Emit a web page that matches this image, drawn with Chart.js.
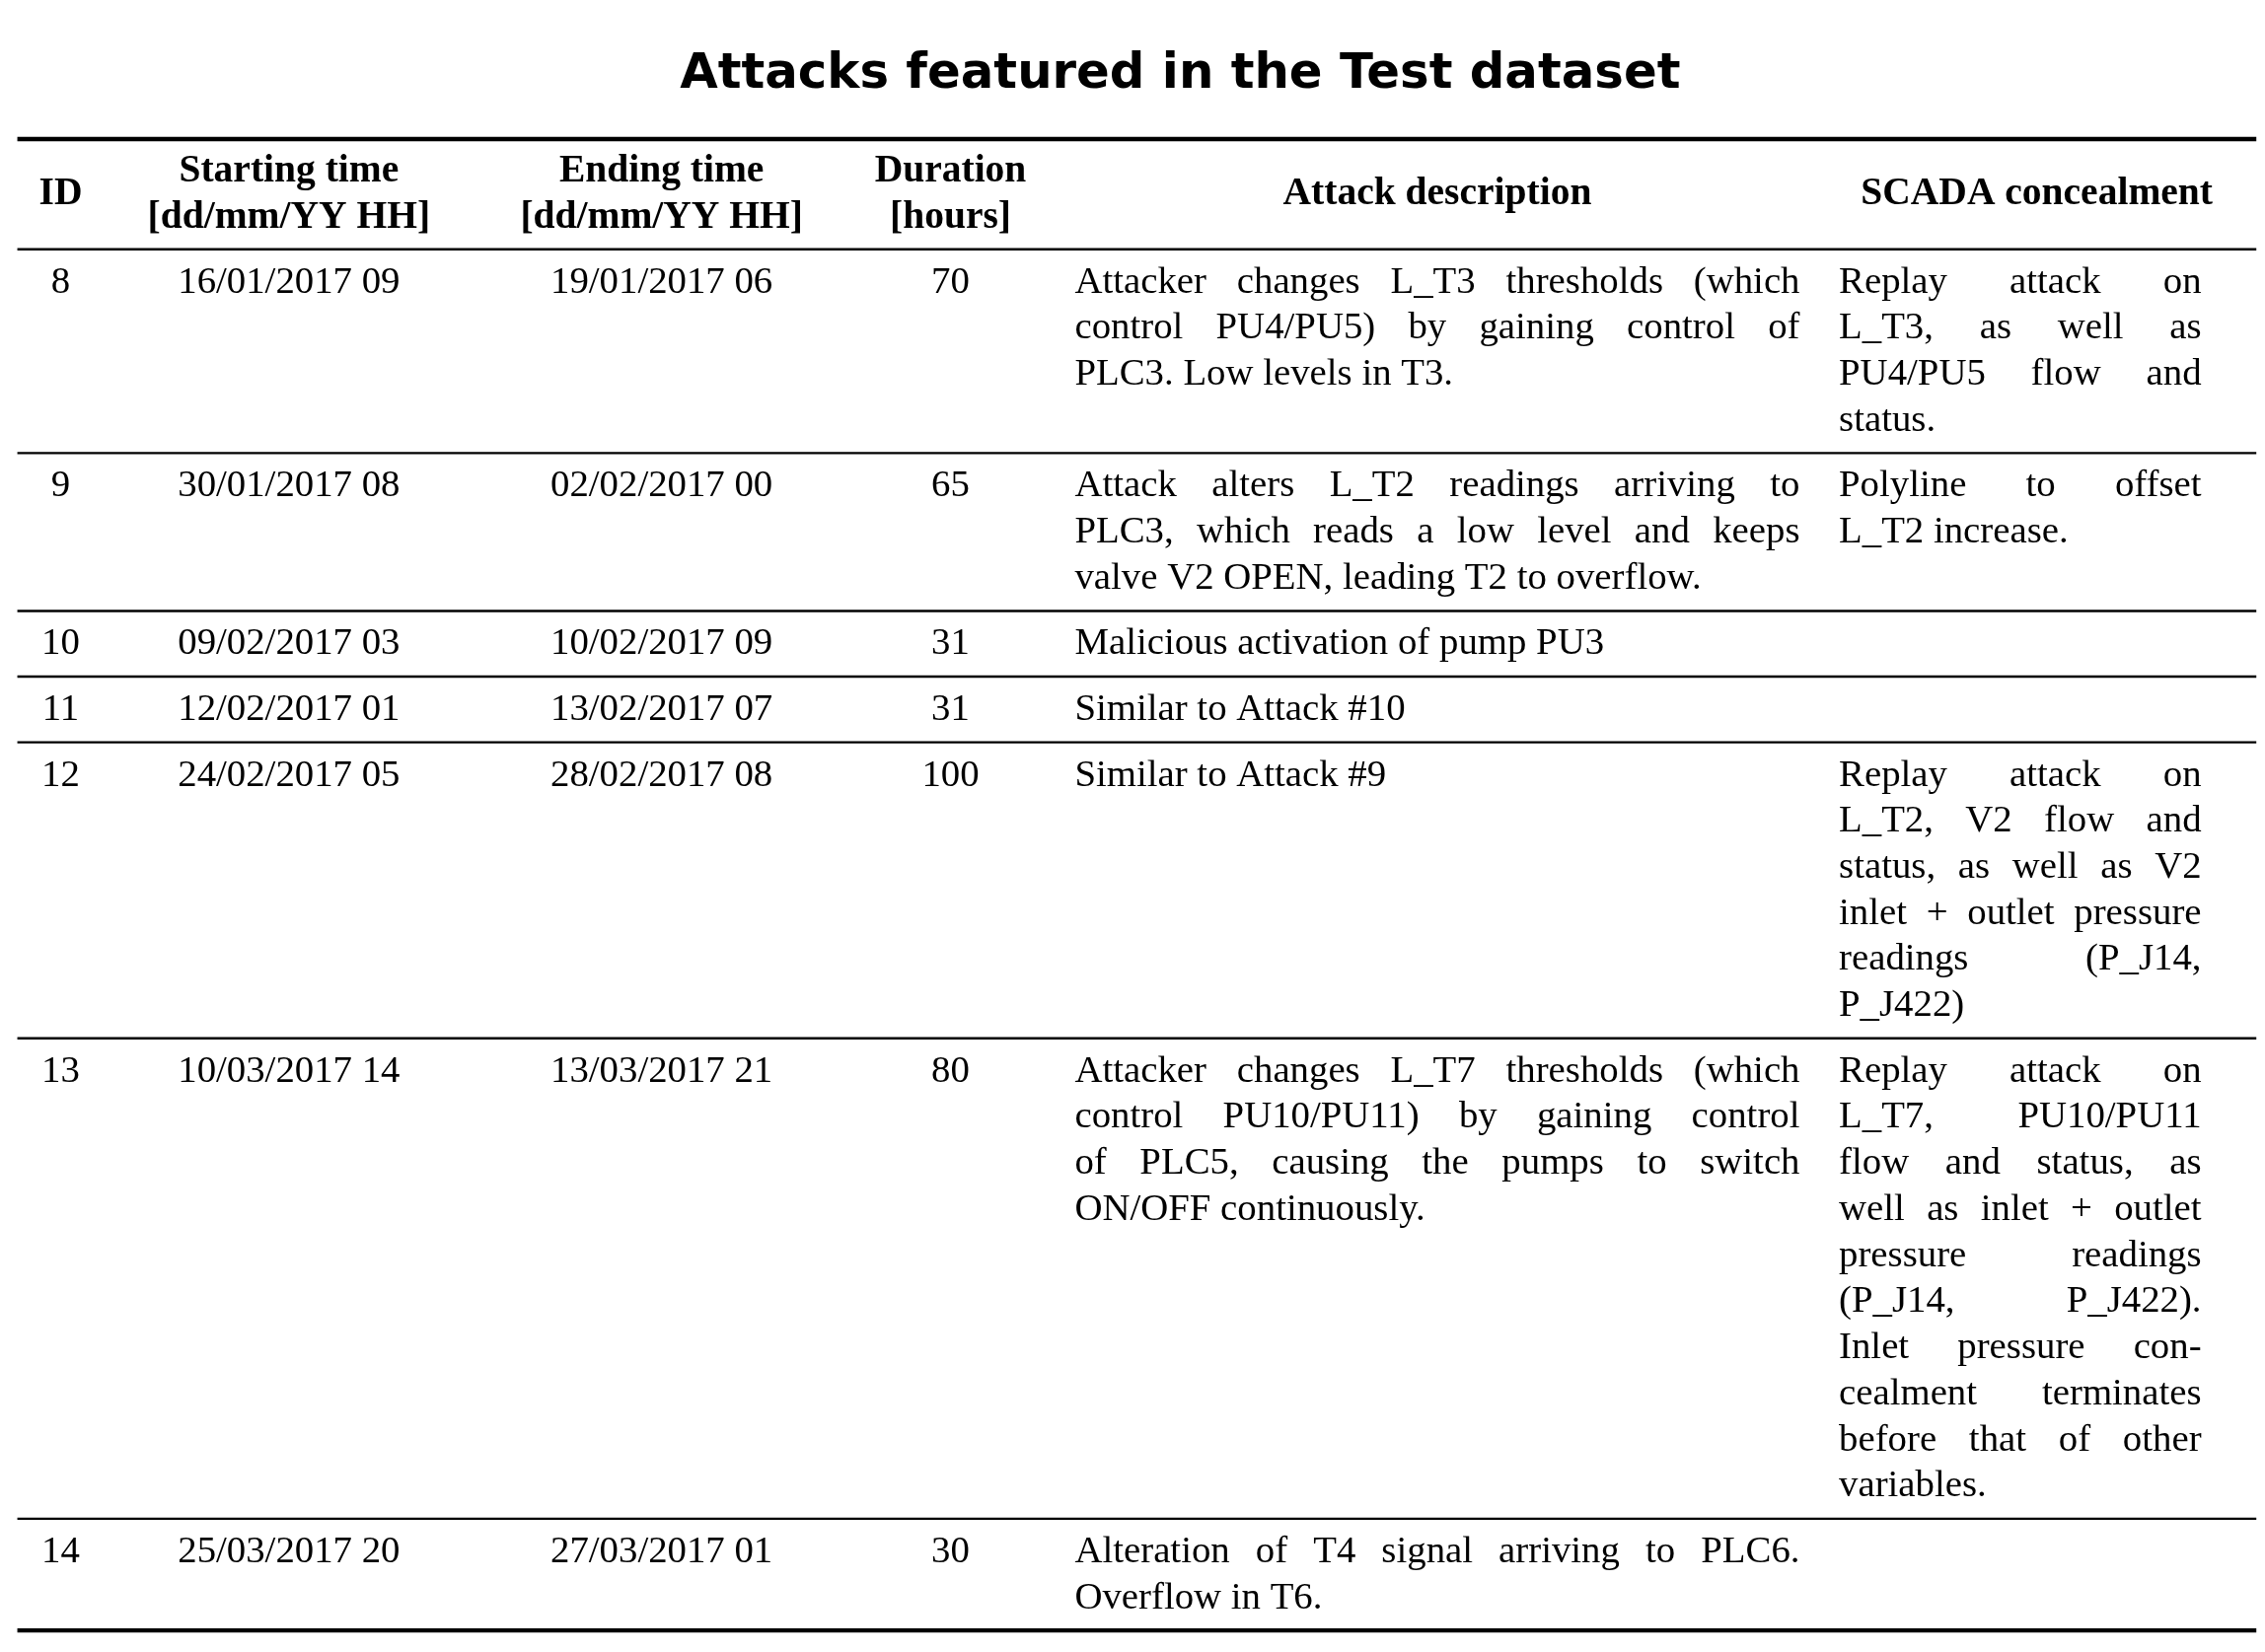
<!DOCTYPE html>
<html>
<head>
<meta charset="utf-8">
<script src="https://cdn.jsdelivr.net/npm/chart.js@4/dist/chart.umd.min.js"></script>
<style>
html, body { margin: 0; padding: 0; background: #fff; }
#wrap { width: 2296px; height: 1675px; }
</style>
</head>
<body>
<div id="wrap"><canvas id="tbl"></canvas></div>
<script>
var chartTitle = "Attacks featured in the Test dataset";
var headers = [
    ["ID"],
    ["Starting time", "[dd/mm/YY HH]"],
    ["Ending time", "[dd/mm/YY HH]"],
    ["Duration", "[hours]"],
    ["Attack description"],
    ["SCADA concealment"]
];
var ids = ["8", "9", "10", "11", "12", "13", "14"];
var starts = ["16/01/2017 09", "30/01/2017 08", "09/02/2017 03", "12/02/2017 01", "24/02/2017 05", "10/03/2017 14", "25/03/2017 20"];
var ends = ["19/01/2017 06", "02/02/2017 00", "10/02/2017 09", "13/02/2017 07", "28/02/2017 08", "13/03/2017 21", "27/03/2017 01"];
var durations = ["70", "65", "31", "31", "100", "80", "30"];
var descriptions = [
    ["Attacker changes L_T3 thresholds (which", "control PU4/PU5) by gaining control of", "PLC3. Low levels in T3."],
    ["Attack alters L_T2 readings arriving to", "PLC3, which reads a low level and keeps", "valve V2 OPEN, leading T2 to overflow."],
    ["Malicious activation of pump PU3"],
    ["Similar to Attack #10"],
    ["Similar to Attack #9"],
    ["Attacker changes L_T7 thresholds (which", "control PU10/PU11) by gaining control", "of PLC5, causing the pumps to switch", "ON/OFF continuously."],
    ["Alteration of T4 signal arriving to PLC6.", "Overflow in T6."]
];
var concealments = [
    ["Replay attack on", "L_T3, as well as", "PU4/PU5 flow and", "status."],
    ["Polyline to offset", "L_T2 increase."],
    [],
    [],
    ["Replay attack on", "L_T2, V2 flow and", "status, as well as V2", "inlet + outlet pressure", "readings (P_J14,", "P_J422)"],
    ["Replay attack on", "L_T7, PU10/PU11", "flow and status, as", "well as inlet + outlet", "pressure readings", "(P_J14, P_J422).", "Inlet pressure con-", "cealment terminates", "before that of other", "variables."],
    []
];

// layout in reference units (1568 x 1140)
var W = 1568, H = 1140;
var centers = [42, 200, 458, 658];
var descBox = [744, 1246], concBox = [1273, 1524];
var lineH = 31.8;

var tablePlugin = {
    id: 'tablePlugin',
    afterDraw: function (chart) {
        var ctx = chart.ctx, sx = chart.scales.x, sy = chart.scales.y;
        var s = chart.width / W;
        var X = function (v) { return sx.getPixelForValue(v); };
        var Y = function (v) { return sy.getPixelForValue(v); };
        var body = (26.5 * s) + "px 'Liberation Serif', serif";
        var bold = "bold " + (27 * s) + "px 'Liberation Serif', serif";

        function rule(y, w) {
            ctx.beginPath();
            ctx.lineWidth = w * s;
            ctx.strokeStyle = "#000";
            ctx.moveTo(X(12), Y(y));
            ctx.lineTo(X(1562), Y(y));
            ctx.stroke();
        }
        function justify(line, x0, x1, y, last) {
            var words = line.split(" ");
            if (last || words.length < 2) {
                ctx.textAlign = "left";
                ctx.fillText(line, X(x0), Y(y));
                return;
            }
            var total = 0;
            words.forEach(function (w) { total += ctx.measureText(w).width; });
            var gap = (X(x1) - X(x0) - total) / (words.length - 1);
            var px = X(x0);
            ctx.textAlign = "left";
            words.forEach(function (w) {
                ctx.fillText(w, px, Y(y));
                px += ctx.measureText(w).width + gap;
            });
        }

        ctx.save();
        ctx.fillStyle = "#000";
        ctx.textBaseline = "middle";

        ctx.font = "bold " + (34 * s) + "px 'DejaVu Sans', sans-serif";
        ctx.textAlign = "center";
        ctx.fillText(chartTitle, X(817), Y(52));

        rule(96, 3);
        ctx.font = bold;
        var hx = [42, 200, 458, 658, 995, 1410];
        headers.forEach(function (h, i) {
            ctx.textAlign = "center";
            if (h.length === 1) ctx.fillText(h[0], X(hx[i]), Y(134));
            else { ctx.fillText(h[0], X(hx[i]), Y(118)); ctx.fillText(h[1], X(hx[i]), Y(150)); }
        });
        rule(172, 1.6);

        ctx.font = body;
        var top = 172;
        for (var r = 0; r < ids.length; r++) {
            var n = Math.max(1, descriptions[r].length, concealments[r].length);
            var y0 = top + 23;
            ctx.textAlign = "center";
            [ids[r], starts[r], ends[r], durations[r]].forEach(function (t, i) {
                ctx.fillText(t, X(centers[i]), Y(y0));
            });
            descriptions[r].forEach(function (l, k) {
                justify(l, descBox[0], descBox[1], y0 + k * lineH, k === descriptions[r].length - 1);
            });
            concealments[r].forEach(function (l, k) {
                justify(l, concBox[0], concBox[1], y0 + k * lineH, k === concealments[r].length - 1 && !/ on$/.test(l));
            });
            top += n * lineH + 13.5;
            rule(top, r === ids.length - 1 ? 3 : 1.6);
        }
        ctx.restore();
    }
};

new Chart(document.getElementById("tbl").getContext("2d"), {
    type: 'scatter',
    data: { datasets: [{ data: [] }] },
    options: {
        responsive: true,
        maintainAspectRatio: false,
        animation: false,
        layout: { padding: 0 },
        plugins: { legend: { display: false }, tooltip: { enabled: false } },
        scales: {
            x: { type: 'linear', min: 0, max: W, display: false },
            y: { type: 'linear', min: 0, max: H, reverse: true, display: false }
        }
    },
    plugins: [tablePlugin]
});
</script>
</body>
</html>
